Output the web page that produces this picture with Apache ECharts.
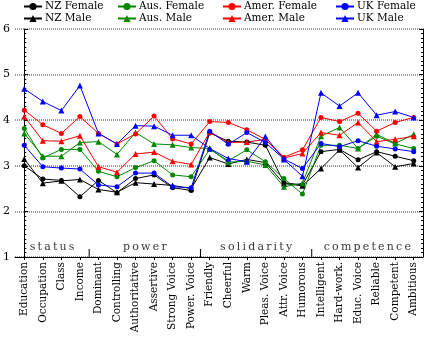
<!DOCTYPE html>
<html><head><meta charset="utf-8">
<script src="https://cdn.jsdelivr.net/npm/echarts@6/dist/echarts.min.js"></script>
<style>html,body{margin:0;padding:0;background:#fff}#c{width:425px;height:337px}</style>
</head><body><div id="c"></div>
<script>
const categories = ['Education','Occupation','Class','Income','Dominant','Controlling','Authoritative','Assertive','Strong Voice','Power. Voice','Friendly','Cheerful','Warm','Pleas. Voice','Attr. Voice','Humorous','Intelligent','Hard-work.','Educ. Voice','Reliable','Competent','Ambitious'];
const groupNames = ['status','power','solidarity','competence'];
const groupCenters = [1.5, 6.5, 12.5, 18.5];
const groupBounds = [3.5, 9.5, 15.5];
const yTicks = [1,2,3,4,5,6];

const nzFemale   = [3.00,2.71,2.68,2.32,2.68,2.41,2.72,2.80,2.52,2.46,3.72,3.54,3.52,3.45,2.63,2.58,3.31,3.36,3.13,3.31,3.21,3.11];
const nzMale     = [3.15,2.62,2.67,2.70,2.48,2.42,2.63,2.60,2.57,2.50,3.18,3.04,3.14,3.07,2.61,2.56,2.94,3.35,2.96,3.29,2.98,3.05];
const ausFemale  = [3.82,3.17,3.36,3.36,2.88,2.76,2.96,3.11,2.80,2.76,3.36,3.11,3.35,3.09,2.72,2.38,3.45,3.45,3.38,3.65,3.48,3.38];
const ausMale    = [3.71,3.21,3.21,3.51,3.53,3.25,3.73,3.48,3.46,3.40,3.38,3.08,3.10,3.02,2.54,2.62,3.65,3.84,3.38,3.69,3.49,3.69];
const amerFemale = [4.22,3.90,3.71,4.08,3.71,3.48,3.70,4.09,3.59,3.48,3.97,3.95,3.79,3.58,3.19,3.35,4.06,3.97,4.15,3.76,3.95,4.06];
const amerMale   = [4.08,3.55,3.54,3.66,2.98,2.86,3.26,3.30,3.10,3.03,3.74,3.51,3.52,3.58,3.17,3.27,3.73,3.67,3.95,3.53,3.58,3.65];
const ukFemale   = [3.45,2.98,2.95,2.93,2.58,2.54,2.84,2.84,2.54,2.52,3.76,3.47,3.73,3.51,3.15,2.94,3.49,3.42,3.55,3.43,3.37,3.31];
const ukMale     = [4.69,4.41,4.21,4.76,3.71,3.48,3.88,3.87,3.67,3.67,3.38,3.16,3.09,3.64,3.14,2.77,4.60,4.31,4.60,4.11,4.19,4.06];

const FONT = 'DejaVu Serif';
const defs = [
  {name:'NZ Female', data:nzFemale, color:'#000000', symbol:'circle'},
  {name:'NZ Male', data:nzMale, color:'#000000', symbol:'triangle'},
  {name:'Aus. Female', data:ausFemale, color:'#008800', symbol:'circle'},
  {name:'Aus. Male', data:ausMale, color:'#008800', symbol:'triangle'},
  {name:'Amer. Female', data:amerFemale, color:'#ff0000', symbol:'circle'},
  {name:'Amer. Male', data:amerMale, color:'#ff0000', symbol:'triangle'},
  {name:'UK Female', data:ukFemale, color:'#0000ff', symbol:'circle'},
  {name:'UK Male', data:ukMale, color:'#0000ff', symbol:'triangle'}
];
const spaced = s => s.split('').join('\u2009');

const chart = echarts.init(document.getElementById('c'), null, {renderer:'canvas'});
const lineSeries = defs.map(d => ({
  type:'line', name:d.name, data:d.data, xAxisIndex:0, yAxisIndex:0,
  symbol:d.symbol, symbolSize:d.symbol==='triangle'?6:5, showSymbol:true,
  itemStyle:{color:d.color}, lineStyle:{color:d.color, width:1}, animation:false
}));
const legendCols = [23, 117, 222, 335];
const legends = legendCols.map((x,i) => ({
  orient:'vertical', left:x, top:1, itemGap:1, itemWidth:18, itemHeight:9,
  padding:0, selectedMode:false,
  textStyle:{fontFamily:FONT, fontSize:10.5, color:'#000', padding:[0,0,0,-2]},
  data:[defs[i*2].name, defs[i*2+1].name]
}));
const yCommon = {
  type:'value', min:1, max:6, interval:1,
  axisLine:{show:true, lineStyle:{color:'#000', width:1}},
  axisTick:{show:true, inside:true, length:4, lineStyle:{color:'#000'}},
  minorTick:{show:true, splitNumber:10, length:2, lineStyle:{color:'#000'}}
};
chart.setOption({
  animation:false,
  backgroundColor:'#fff',
  grid:{left:14, right:2, top:29, bottom:80, containLabel:false},
  legend:legends,
  xAxis:[{
    type:'category', data:categories, boundaryGap:true,
    axisLine:{lineStyle:{color:'#000', width:1}},
    axisTick:{show:true, alignWithLabel:true, length:3, lineStyle:{color:'#000'}},
    axisLabel:{rotate:90, interval:0, fontFamily:FONT, fontSize:10.5, color:'#000', margin:5},
    splitLine:{show:false}
  },{
    type:'value', min:-0.5, max:21.5, show:false
  }],
  yAxis:[Object.assign({}, yCommon, {
    position:'left',
    axisLabel:{fontFamily:FONT, fontSize:11, color:'#000', margin:5},
    splitLine:{show:true, lineStyle:{color:'#999', width:2, type:[1,1]}}
  }), Object.assign({}, yCommon, {
    position:'right',
    axisLabel:{show:false},
    splitLine:{show:false}
  })],
  series: lineSeries.concat([
    {
      type:'custom', xAxisIndex:1, yAxisIndex:0, silent:true, animation:false,
      data: groupBounds.map(b => [b]),
      renderItem:(p, api) => {
        const pt = api.coord([api.value(0), yTicks[0]]);
        return {type:'line', shape:{x1:pt[0], y1:pt[1], x2:pt[0], y2:pt[1]-8},
                style:{stroke:'#000', lineWidth:1}};
      }
    },
    {
      type:'scatter', xAxisIndex:1, yAxisIndex:0, silent:true, symbolSize:0, animation:false,
      data: groupNames.map((n,i) => ({name:n, value:[groupCenters[i], 1.22]})),
      label:{show:true, position:'inside', formatter:p => spaced(p.name),
             fontFamily:FONT, fontSize:11, color:'#000'}
    }
  ])
});
</script></body></html>
